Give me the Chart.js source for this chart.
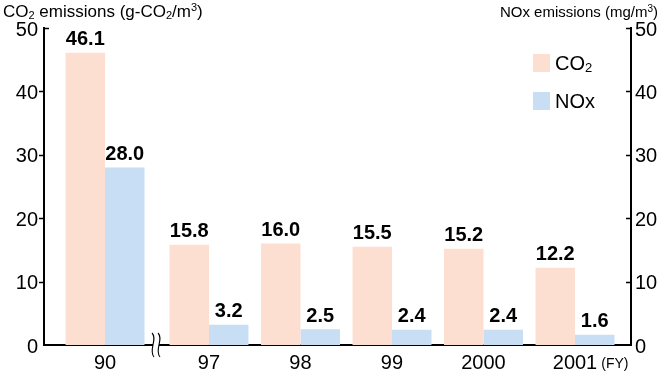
<!DOCTYPE html>
<html>
<head>
<meta charset="utf-8">
<script src="https://cdn.jsdelivr.net/npm/chart.js@4.4.1/dist/chart.umd.min.js"></script>
<style>
  html, body { margin: 0; padding: 0; background: #fff; }
  #c { display: block; }
</style>
</head>
<body>
<canvas id="c" width="661" height="375"></canvas>
<script>
// Emissions per unit of gas, fiscal years
const categories = ['90', '97', '98', '99', '2000', '2001'];
const co2Values = [46.1, 15.8, 16.0, 15.5, 15.2, 12.2];   // g-CO2/m3
const noxValues = [28.0, 3.2, 2.5, 2.4, 2.4, 1.6];        // mg/m3
const yTicks = [0, 10, 20, 30, 40, 50];

const FONT = '"Liberation Sans", Arial, Helvetica, sans-serif';
const CO2_COLOR = '#fcdfd0';
const NOX_COLOR = '#c7def5';

// The years between 1990 and 1997 are cut out by an axis break,
// which takes a bit of extra room before the second group.
const BREAK_GAP = 0.136;
const slot = i => (i === 0 ? -BREAK_GAP : i);

// Draws text with optional subscript / superscript pieces.
function richText(ctx, parts, x, y, align, size) {
  const small = Math.round(size * 0.66);
  const widthOf = p => {
    ctx.font = `${p[1] ? small : size}px ${FONT}`;
    return ctx.measureText(p[0]).width;
  };
  const total = parts.reduce((s, p) => s + widthOf(p), 0);
  let cx = align === 'right' ? x - total : align === 'center' ? x - total / 2 : x;
  ctx.textAlign = 'left';
  for (const p of parts) {
    const w = widthOf(p);
    let dy = 0;
    if (p[1] === 'sub') dy = size * 0.12;
    if (p[1] === 'sup') dy = -size * 0.33;
    ctx.fillText(p[0], cx, y + dy);
    cx += w;
  }
}

const valueLabels = {
  id: 'valueLabels',
  afterDatasetsDraw(chart) {
    const { ctx } = chart;
    ctx.save();
    ctx.fillStyle = '#000';
    ctx.font = `bold 20px ${FONT}`;
    ctx.textAlign = 'center';
    ctx.textBaseline = 'bottom';
    chart.data.datasets.forEach((ds, di) => {
      chart.getDatasetMeta(di).data.forEach((bar, i) => {
        ctx.fillText(ds.data[i].y.toFixed(1), bar.x, bar.y - 3);
      });
    });
    ctx.restore();
  }
};

const decorations = {
  id: 'decorations',
  afterDraw(chart) {
    const { ctx, chartArea: a, scales } = chart;
    ctx.save();
    ctx.fillStyle = '#000';
    ctx.strokeStyle = '#000';

    // Axis titles
    ctx.textBaseline = 'alphabetic';
    richText(ctx, [['CO'], ['2', 'sub'], [' emissions (g-CO'], ['2', 'sub'], ['/m'], ['3', 'sup'], [')']],
      3, 17, 'left', 17);
    richText(ctx, [['NOx emissions (mg/m'], ['3', 'sup'], [')']], 658, 17, 'right', 15);

    // Tick marks: outward on the left axis, inward on the right
    ctx.lineWidth = 1.6;
    ctx.beginPath();
    yTicks.forEach(v => {
      const py = Math.round(scales.y.getPixelForValue(v)) + 0.5;
      if (v === 0) return;
      if (v === 50) {
        ctx.moveTo(a.left, py); ctx.lineTo(a.left + 5, py);
      } else {
        ctx.moveTo(a.left - 5, py); ctx.lineTo(a.left, py);
      }
      ctx.moveTo(a.right - 5, py); ctx.lineTo(a.right, py);
    });
    ctx.stroke();

    // Axis break between the first and second groups
    const bx = (scales.x.getPixelForValue(slot(0)) + scales.x.getPixelForValue(slot(1))) / 2 - 1;
    const by = a.bottom;
    ctx.fillStyle = '#fff';
    ctx.fillRect(bx - 3, by - 2.5, 6, 5);
    ctx.lineWidth = 1.1;
    [-3, 3].forEach(off => {
      const x = bx + off;
      ctx.beginPath();
      ctx.moveTo(x - 1, by - 12);
      ctx.bezierCurveTo(x + 5, by - 6, x - 5, by + 5, x + 1, by + 12);
      ctx.stroke();
    });

    // Fiscal-year marker after the last category label
    ctx.fillStyle = '#000';
    ctx.font = `20px ${FONT}`;
    const lastX = scales.x.getPixelForValue(slot(categories.length - 1));
    const lastW = ctx.measureText(categories[categories.length - 1]).width;
    ctx.font = `14px ${FONT}`;
    ctx.textAlign = 'left';
    ctx.textBaseline = 'alphabetic';
    ctx.fillText('(FY)', lastX + lastW / 2 + 4, 368);

    // Legend
    const items = [
      { color: CO2_COLOR, parts: [['CO'], ['2', 'sub']] },
      { color: NOX_COLOR, parts: [['NOx']] }
    ];
    items.forEach((it, k) => {
      const top = 54 + k * 38;
      ctx.fillStyle = it.color;
      ctx.fillRect(533, top, 17, 18);
      ctx.fillStyle = '#000';
      ctx.textBaseline = 'alphabetic';
      richText(ctx, it.parts, 555, top + 16, 'left', 20);
    });

    ctx.restore();
  }
};

new Chart(document.getElementById('c'), {
  type: 'bar',
  data: {
    datasets: [
      {
        label: 'CO2',
        data: categories.map((c, i) => ({ x: slot(i), y: co2Values[i] })),
        backgroundColor: CO2_COLOR,
        yAxisID: 'y'
      },
      {
        label: 'NOx',
        data: categories.map((c, i) => ({ x: slot(i), y: noxValues[i] })),
        backgroundColor: NOX_COLOR,
        yAxisID: 'y2'
      }
    ]
  },
  options: {
    responsive: false,
    animation: false,
    devicePixelRatio: 1,
    layout: { padding: { top: 28, left: 0, right: 0, bottom: 0 } },
    plugins: { legend: { display: false }, tooltip: { enabled: false } },
    datasets: { bar: { barPercentage: 1, categoryPercentage: 0.863 } },
    scales: {
      x: {
        type: 'linear',
        offset: false,
        min: -0.803,
        max: 5.612,
        grid: { display: false, drawTicks: false, offset: false },
        border: { display: true, color: '#000', width: 2 },
        afterBuildTicks: s => { s.ticks = categories.map((c, i) => ({ value: slot(i) })); },
        afterFit: s => { s.height = 30; },
        ticks: {
          autoSkip: false, maxRotation: 0, padding: 6, color: '#000',
          font: { family: FONT, size: 20 },
          callback: (v, i) => categories[i]
        }
      },
      y: {
        position: 'left',
        min: 0, max: 50,
        grid: { display: false, drawTicks: false },
        border: { display: true, color: '#000', width: 2 },
        afterBuildTicks: s => { s.ticks = yTicks.map(v => ({ value: v })); },
        afterFit: s => { s.width = 44; },
        ticks: { padding: 6, labelOffset: 2, color: '#000', font: { family: FONT, size: 20 } }
      },
      y2: {
        position: 'right',
        min: 0, max: 50,
        grid: { display: false, drawTicks: false },
        border: { display: true, color: '#000', width: 2 },
        afterBuildTicks: s => { s.ticks = yTicks.map(v => ({ value: v })); },
        afterFit: s => { s.width = 30; },
        ticks: { padding: 4, labelOffset: 2, color: '#000', font: { family: FONT, size: 20 } }
      }
    }
  },
  plugins: [valueLabels, decorations]
});
</script>
</body>
</html>
